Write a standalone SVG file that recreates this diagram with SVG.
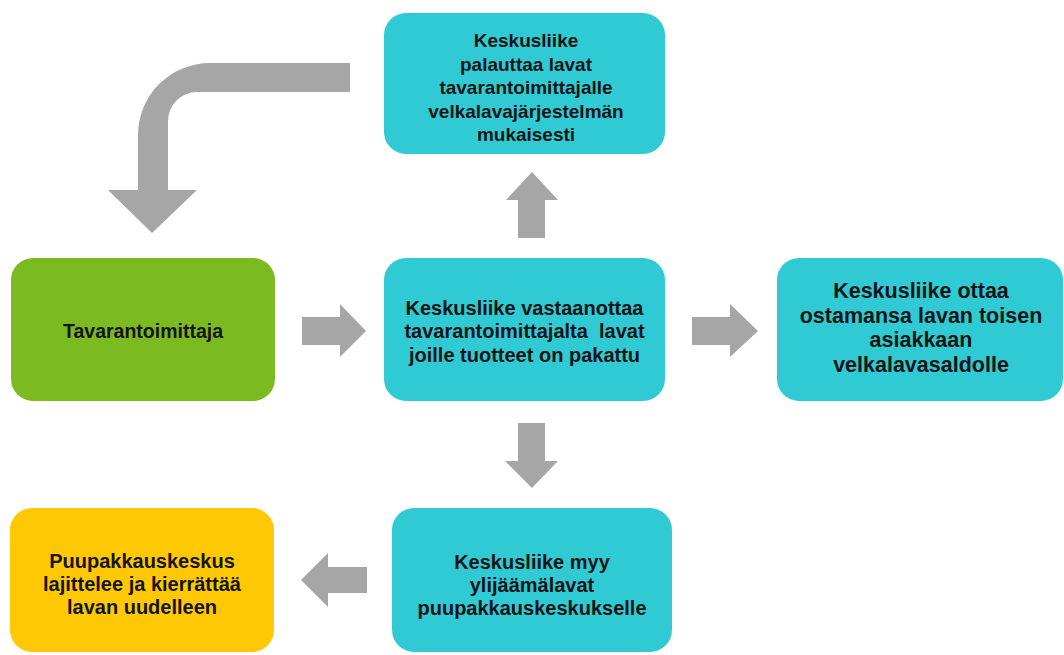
<svg xmlns="http://www.w3.org/2000/svg" width="1064" height="655" viewBox="0 0 1064 655">
  <style>
    .box-teal { fill: #2fcad3; }
    .box-green { fill: #7cba22; }
    .box-yellow { fill: #ffc805; }
    .arrow { fill: #a6a6a6; }
    text { font-family: "Liberation Sans", Arial, sans-serif; font-weight: bold; fill: #141414; text-anchor: middle; }
    .t19 { font-size: 19px; }
    .t20 { font-size: 20px; }
    .t21 { font-size: 21.5px; }
  </style>
  <rect width="1064" height="655" fill="#ffffff"/>

  <!-- connectors -->
  <g id="connectors">
    <path class="arrow" d="M350,63 L210,63 A72,72 0 0 0 138,135 L138,190 L108,190 L152,233 L197,190 L168,190 L168,121 A29,29 0 0 1 197,92 L350,92 Z"/>
    <polygon class="arrow" points="532,172 558,200 545,200 545,238 518,238 518,200 506,200"/>
    <polygon class="arrow" points="302,317 340,317 340,304 366,331 340,357 340,345 302,345"/>
    <polygon class="arrow" points="692,317 730,317 730,304 758,331 730,357 730,345 692,345"/>
    <polygon class="arrow" points="518,423 545,423 545,461 558,461 532,488 505,461 518,461"/>
    <polygon class="arrow" points="301,580 328,553 328,567 367,567 367,593 328,593 328,607"/>
  </g>

  <!-- return to supplier -->
  <g id="node-return">
    <rect class="box-teal" x="384" y="13" width="281" height="141" rx="22"/>
    <text class="t19" x="526" y="47">Keskusliike</text>
    <text class="t19" x="526" y="70.5">palauttaa lavat</text>
    <text class="t19" x="526" y="94">tavarantoimittajalle</text>
    <text class="t19" x="526" y="117.5">velkalavajärjestelmän</text>
    <text class="t19" x="526" y="141">mukaisesti</text>
  </g>

  <!-- supplier -->
  <g id="node-supplier">
    <rect class="box-green" x="11" y="258" width="264" height="143" rx="22"/>
    <text class="t19" x="143" y="338" style="font-size:19.5px">Tavarantoimittaja</text>
  </g>

  <!-- central store receives -->
  <g id="node-receive">
    <rect class="box-teal" x="384" y="258" width="281" height="143" rx="22"/>
    <text class="t20" x="524.5" y="315">Keskusliike vastaanottaa</text>
    <text class="t20" x="524.5" y="338" xml:space="preserve">tavarantoimittajalta  lavat</text>
    <text class="t20" x="524.5" y="362">joille tuotteet on pakattu</text>
  </g>

  <!-- other customer's balance -->
  <g id="node-balance">
    <rect class="box-teal" x="777" y="258" width="286" height="143" rx="22"/>
    <text class="t21" x="921" y="298">Keskusliike ottaa</text>
    <text class="t21" x="921" y="322.5">ostamansa lavan toisen</text>
    <text class="t21" x="921" y="347">asiakkaan</text>
    <text class="t21" x="921" y="371.5">velkalavasaldolle</text>
  </g>

  <!-- surplus sold -->
  <g id="node-surplus">
    <rect class="box-teal" x="392" y="508" width="280" height="144" rx="22"/>
    <text class="t20" x="532" y="569">Keskusliike myy</text>
    <text class="t20" x="532" y="592">ylijäämälavat</text>
    <text class="t20" x="532" y="615">puupakkauskeskukselle</text>
  </g>

  <!-- recycling centre -->
  <g id="node-recycle">
    <rect class="box-yellow" x="10" y="508" width="264" height="144" rx="22"/>
    <text class="t20" x="142" y="568">Puupakkauskeskus</text>
    <text class="t20" x="142" y="591">lajittelee ja kierrättää</text>
    <text class="t20" x="142" y="614">lavan uudelleen</text>
  </g>
</svg>
